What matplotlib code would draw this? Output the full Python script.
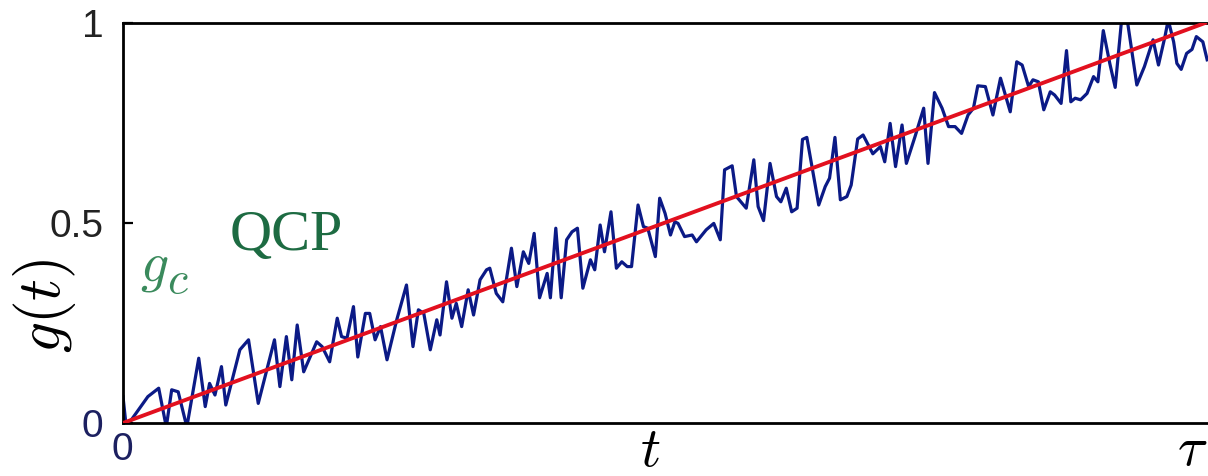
import matplotlib
matplotlib.use("Agg")
import matplotlib.pyplot as plt

plt.rcParams['mathtext.fontset'] = 'cm'
plt.rcParams['font.family'] = ['Liberation Sans', 'DejaVu Sans']

# noisy protocol g(t) (t in units of tau)
t_noisy = [0.000, 0.003, 0.023, 0.033, 0.040, 0.045, 0.051, 0.059, 0.070, 0.076,
           0.080, 0.085, 0.091, 0.095, 0.108, 0.116, 0.125, 0.140, 0.145, 0.151,
           0.156, 0.161, 0.167, 0.179, 0.184, 0.191, 0.198, 0.202, 0.207, 0.213,
           0.217, 0.224, 0.228, 0.233, 0.238, 0.244, 0.253, 0.262, 0.268, 0.273,
           0.278, 0.284, 0.290, 0.293, 0.299, 0.304, 0.308, 0.313, 0.319, 0.324,
           0.330, 0.336, 0.339, 0.345, 0.351, 0.359, 0.364, 0.370, 0.375, 0.380,
           0.385, 0.392, 0.395, 0.400, 0.405, 0.410, 0.415, 0.420, 0.425, 0.432,
           0.436, 0.441, 0.445, 0.451, 0.456, 0.461, 0.466, 0.470, 0.476, 0.481,
           0.485, 0.492, 0.496, 0.501, 0.506, 0.510, 0.513, 0.519, 0.526, 0.530,
           0.539, 0.546, 0.552, 0.556, 0.563, 0.567, 0.576, 0.583, 0.587, 0.592,
           0.598, 0.604, 0.608, 0.613, 0.618, 0.623, 0.628, 0.632, 0.643, 0.649,
           0.653, 0.658, 0.663, 0.669, 0.673, 0.679, 0.684, 0.693, 0.700, 0.704,
           0.709, 0.714, 0.720, 0.724, 0.732, 0.740, 0.744, 0.750, 0.757, 0.763,
           0.769, 0.775, 0.781, 0.786, 0.790, 0.797, 0.804, 0.811, 0.820, 0.826,
           0.831, 0.837, 0.841, 0.846, 0.851, 0.857, 0.861, 0.867, 0.872, 0.876,
           0.880, 0.885, 0.891, 0.897, 0.901, 0.906, 0.912, 0.917, 0.923, 0.928,
           0.937, 0.944, 0.952, 0.957, 0.963, 0.966, 0.971, 0.974, 0.978, 0.983,
           0.988, 0.992, 0.998, 1.002]
g_noisy = [0.066, -0.01, 0.066, 0.087, -0.01, 0.083, 0.078, -0.01, 0.162, 0.041,
           0.099, 0.070, 0.141, 0.045, 0.183, 0.208, 0.049, 0.208, 0.091, 0.216,
           0.108, 0.245, 0.128, 0.203, 0.191, 0.153, 0.262, 0.216, 0.212, 0.291,
           0.165, 0.274, 0.274, 0.208, 0.241, 0.158, 0.258, 0.345, 0.191, 0.283,
           0.274, 0.183, 0.258, 0.220, 0.353, 0.262, 0.299, 0.241, 0.333, 0.270,
           0.358, 0.383, 0.387, 0.324, 0.303, 0.437, 0.341, 0.428, 0.399, 0.474,
           0.313, 0.374, 0.313, 0.487, 0.313, 0.458, 0.478, 0.487, 0.337, 0.408,
           0.383, 0.495, 0.428, 0.528, 0.387, 0.403, 0.391, 0.391, 0.545, 0.491,
           0.487, 0.416, 0.562, 0.524, 0.470, 0.503, 0.499, 0.466, 0.470, 0.453,
           0.483, 0.499, 0.458, 0.633, 0.643, 0.566, 0.537, 0.658, 0.541, 0.506,
           0.649, 0.566, 0.553, 0.587, 0.528, 0.537, 0.709, 0.714, 0.545, 0.591,
           0.612, 0.714, 0.558, 0.566, 0.595, 0.710, 0.720, 0.673, 0.691, 0.653,
           0.749, 0.641, 0.745, 0.649, 0.716, 0.787, 0.649, 0.826, 0.787, 0.741,
           0.741, 0.724, 0.770, 0.787, 0.843, 0.841, 0.770, 0.862, 0.778, 0.903,
           0.895, 0.841, 0.858, 0.853, 0.783, 0.828, 0.820, 0.799, 0.931, 0.803,
           0.812, 0.808, 0.824, 0.866, 0.853, 0.981, 0.899, 0.839, 1.010, 1.010,
           0.845, 0.891, 0.958, 0.895, 0.966, 1.008, 0.953, 0.899, 0.884, 0.924,
           0.934, 0.966, 0.953, 0.908]

# linear ramp
t_ramp = [0.0, 1.0]
g_ramp = [0.0, 1.0]

yticks = [0, 0.5, 1]
ytick_labels = ['0', '0.5', '1']

fig = plt.figure(figsize=(12.08, 4.76), dpi=100)
ax = fig.add_axes([123/1208, 53/476, 1082*1.01/1208, 400/476])

ax.plot(t_noisy, g_noisy, color='#0b1a86', lw=2.3, zorder=2)
ax.plot(t_ramp, g_ramp, color='#e2101f', lw=2.8, zorder=3)

ax.set_xlim(0, 1.01)
ax.set_ylim(0, 1)
for s in ['left', 'top', 'bottom']:
    ax.spines[s].set_linewidth(2.0)
ax.spines['right'].set_visible(False)

ax.set_xticks([])
ax.set_yticks(yticks)
ax.set_yticklabels(ytick_labels)
ax.tick_params(axis='y', direction='in', length=7, width=1.6, pad=14,
               labelsize=28, labelcolor='#222222')
ax.get_yticklabels()[0].set_color('#1c2060')

# x labels
fig.text(122/1208, (476-450)/476, '0', fontsize=28, color='#1c2060',
         ha='center', va='center')
fig.text(650/1208, (476-452)/476, r'$t$', fontsize=40, ha='center', va='center')
fig.text(1207/1208, (476-451)/476, r'$\tau$', fontsize=40, ha='right', va='center')

# y label
fig.text(44/1208, (476-306)/476, r'$g(t)$', fontsize=44, rotation=90,
         ha='center', va='center')

# annotations
fig.text(230/1208, (476-236)/476, 'QCP', fontsize=42, color='#1d6b42',
         family='Liberation Serif', ha='left', va='center')
fig.text(140/1208, (476-280)/476, r'$g$', fontsize=40, color='#3a8a5c',
         ha='left', va='baseline')
fig.text(167/1208, (476-293)/476, r'$c$', fontsize=33, color='#3a8a5c',
         ha='left', va='baseline')

fig.savefig('out.png', dpi=100)
